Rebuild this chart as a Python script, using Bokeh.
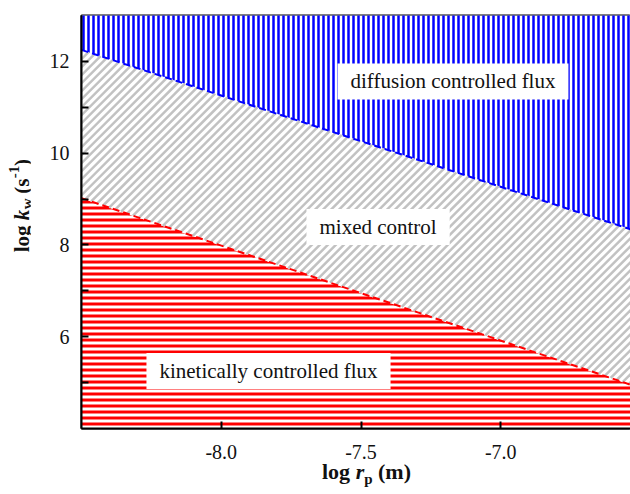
import numpy as np
from bokeh.plotting import figure
from bokeh.models import FixedTicker, Label, Range1d, Div
from bokeh.layouts import row, column
from bokeh.embed import file_html
from bokeh.resources import INLINE

# ---- data -------------------------------------------------------------
log_rp = [-8.5, -6.5]            # x extent of the regime map
upper_boundary = [12.25, 8.27]   # diffusion / mixed boundary (log kw)
lower_boundary = [9.02, 4.88]    # mixed / kinetic boundary (log kw)
y_min, y_max = 4.0, 13.0
x_min, x_max = -8.5, -6.536
x_ticks = [-8.0, -7.5, -7.0]
y_ticks = [6, 8, 10, 12]
y_minor = [5, 7, 9, 11]
region_labels = ["diffusion controlled flux", "mixed control", "kinetically controlled flux"]
region_x = [-7.171, -7.439, -7.831]
region_y = [11.562, 8.391, 5.253]

SERIF = "'Liberation Serif', 'Times New Roman', serif"

FIG_W, FIG_H = 600, 470
B_LEFT, B_TOP, B_BOTTOM = 51, 15, 42
p = figure(width=FIG_W, height=FIG_H, output_backend="svg", toolbar_location=None,
           x_range=Range1d(x_min, x_max), y_range=Range1d(y_min, y_max),
           min_border_left=B_LEFT, min_border_right=0, min_border_top=B_TOP,
           min_border_bottom=B_BOTTOM)
p.background_fill_color = "white"
p.border_fill_color = "white"
p.outline_line_color = "black"
p.outline_line_width = 2
p.xgrid.visible = False
p.ygrid.visible = False

# ---- regions ------------------------------------------------------------
p.varea(x=log_rp, y1=[y_min - 1] * 2, y2=lower_boundary, fill_color="white",
        hatch_pattern="horizontal_line", hatch_color="#ff0000", hatch_scale=6, hatch_weight=3)
p.varea(x=log_rp, y1=lower_boundary, y2=upper_boundary, fill_color="white")
p.varea(x=log_rp, y1=upper_boundary, y2=[y_max + 1] * 2, fill_color="white",
        hatch_pattern="vertical_line", hatch_color="#0000ff", hatch_scale=5, hatch_weight=2.5)

# 45-degree grey hatching of the mixed-control band, clipped to its two boundaries
frame_w = FIG_W - B_LEFT
frame_h = FIG_H - B_TOP - B_BOTTOM
px_x = frame_w / (x_max - x_min)
px_y = frame_h / (y_max - y_min)
m = px_x / px_y                      # data slope of a 45 degree screen line
step = 8.0 / px_y                    # 8 px horizontal period
span = log_rp[1] - log_rp[0]
a0, a1 = lower_boundary[0], (lower_boundary[1] - lower_boundary[0]) / span
b0, b1 = upper_boundary[0], (upper_boundary[1] - upper_boundary[0]) / span
cs = np.arange(a0 + a1 * span - m * span - step, b0 + step, step)
t_lo = np.clip((a0 - cs) / (m - a1), 0, span)
t_hi = np.clip((b0 - cs) / (m - b1), 0, span)
keep = t_hi > t_lo
cs, t_lo, t_hi = cs[keep], t_lo[keep], t_hi[keep]
p.segment(x0=log_rp[0] + t_lo, y0=cs + m * t_lo, x1=log_rp[0] + t_hi, y1=cs + m * t_hi,
          line_color="#c2c2c2", line_width=2.5)

p.line(log_rp, lower_boundary, line_color="#ff0000", line_width=2, line_dash="7 4")
p.line(log_rp, upper_boundary, line_color="#0000ff", line_width=2, line_dash="7 4")

# ---- region labels --------------------------------------------------------
for t, x, y in zip(region_labels, region_x, region_y):
    p.add_layout(Label(x=x, y=y, text=t, text_align="center", text_baseline="middle",
                       text_font=SERIF, text_font_size="21px", text_color="#111111",
                       background_fill_color="white",
                       padding=dict(left=13, right=13, top=6, bottom=6)))

# ---- axes -------------------------------------------------------------------
for ax in (p.xaxis[0], p.yaxis[0]):
    ax.axis_line_width = 2
    ax.axis_line_color = "black"
    ax.major_tick_line_width = 2
    ax.major_tick_line_color = "black"
    ax.major_tick_in = 7
    ax.major_tick_out = 0
    ax.minor_tick_line_width = 2
    ax.minor_tick_line_color = "black"
    ax.minor_tick_in = 7
    ax.minor_tick_out = 0
    ax.major_label_text_font = SERIF
    ax.major_label_text_font_size = "20px"
    ax.major_label_text_color = "#111111"

p.xaxis[0].major_label_standoff = 16
p.yaxis[0].major_label_standoff = 12
p.xaxis[0].ticker = FixedTicker(ticks=x_ticks, minor_ticks=[])
p.yaxis[0].ticker = FixedTicker(ticks=y_ticks, minor_ticks=y_minor)
p.xaxis[0].major_label_overrides = {t: f"{t:.1f}" for t in x_ticks}

# ---- axis titles (rich text) -------------------------------------------------
font_css = "font-family:'Liberation Serif',serif; font-weight:bold; color:#111111; white-space:nowrap;"

x_title = Div(
    text=(f'<div style="{font_css} font-size:22px; line-height:22px; position:relative; '
          'top:-9px; margin-left:292px;">log <i>r</i>'
          '<span style="font-size:15px; position:relative; top:5px;">p</span> (m)</div>'),
    width=600, height=24, margin=0, styles={"overflow": "visible"})

y_title = Div(
    text=(f'<div style="{font_css} font-size:21px; line-height:24px; display:inline-block; '
          'writing-mode:vertical-rl; transform:rotate(180deg); margin-top:159px; '
          'margin-left:10px;">log <i>k</i>'
          '<span style="font-size:15px; position:relative; left:-5px;">w</span> (s'
          '<span style="font-size:15px; position:relative; left:8px;">-1</span>)</div>'),
    width=30, height=494, margin=0, styles={"overflow": "visible"})

layout = row(y_title, column(p, x_title, spacing=0), spacing=0)

open("out.html", "w").write(file_html(layout, INLINE))
